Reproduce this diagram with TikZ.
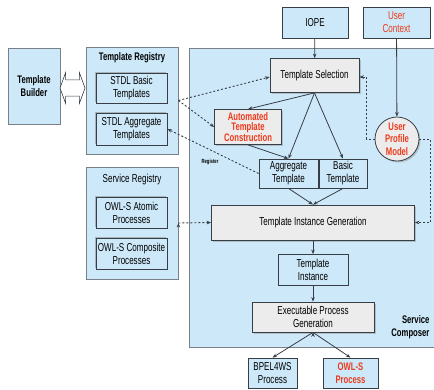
\documentclass[tikz,border=0pt]{standalone}
\usepackage{fontspec}
\setmainfont{Liberation Sans}[FakeStretch=0.7]
\usetikzlibrary{positioning,calc,shadows,shapes.arrows,arrows.meta}

\definecolor{paleblue}{RGB}{205,233,249}
\definecolor{procgrey}{RGB}{236,236,236}
\definecolor{linegrey}{RGB}{55,62,70}
\definecolor{framegrey}{RGB}{120,128,136}
\definecolor{alertred}{RGB}{236,58,28}

\begin{document}
\begin{tikzpicture}[x=1pt,y=-1pt,>={Stealth[length=4.5pt,width=3.5pt]},
  font=\fontsize{11.5}{13}\selectfont,
  frame/.style={draw=framegrey,line width=0.9pt,fill=paleblue,inner sep=0pt},
  plain/.style={draw=linegrey,line width=0.8pt,fill=paleblue,align=center,inner sep=1pt},
  store/.style={plain,minimum width=71pt,drop shadow={shadow xshift=-1.5pt,shadow yshift=1.5pt,opacity=0.5,fill=gray}},
  proc/.style={draw=linegrey,line width=0.8pt,fill=procgrey,align=center,inner sep=1pt,drop shadow={shadow xshift=1.5pt,shadow yshift=-1.5pt,opacity=0.4,fill=gray}},
  hot/.style={text=alertred,font=\fontsize{11}{10.5}\selectfont\bfseries},
  heading/.style={font=\fontsize{11}{13}\selectfont\bfseries},
  flow/.style={->,draw=linegrey,line width=0.8pt},
  feed/.style={->,draw=linegrey,line width=0.9pt,dash pattern=on 2pt off 2pt}]
\useasboundingbox (0,0) rectangle (434,389);
% containers
\node[frame,minimum width=250pt,minimum height=299pt] (composer) at (314,197.5) {};
\node[frame,minimum width=92pt,minimum height=107pt] (tregistry) at (132,100.5) {};
\node[frame,minimum width=92pt,minimum height=112pt] (sregistry) at (132,223) {};
\node[heading] at (132,58) {Template Registry};
\node at (132,180) {Service Registry};
\node[heading,align=right,anchor=east] at (433,327) {Service\\Composer};
% left side
\node[frame,heading,minimum width=52pt,minimum height=76pt,align=center] (builder) at (34,86) {Template\\Builder};
\node[double arrow,draw=linegrey,fill=white,line width=0.6pt,minimum height=25pt,minimum width=31pt,inner sep=0pt,inner ysep=7.5pt,double arrow tip angle=140] (link) at (72.5,88) {};
\node[store,minimum height=30pt] (stdlbasic) at (131.5,88) {STDL Basic\\Templates};
\node[store,minimum height=32pt] (stdlaggr) at (131.5,129) {STDL Aggregate\\Templates};
\node[store,minimum height=31pt] (owlatomic) at (131.5,213) {OWL-S Atomic\\Processes};
\node[store,minimum height=31pt] (owlcomp) at (131.5,253.5) {OWL-S Composite\\Processes};
% top inputs
\node[plain,minimum width=66pt,minimum height=31pt] (iope) at (315,22.5) {IOPE};
\node[plain,minimum width=67pt,minimum height=31pt,text=alertred] (context) at (396.5,22.5) {User\\Context};
% composer
\node[proc,minimum width=89pt,minimum height=34pt] (tsel) at (314.5,75.5) {Template Selection};
\node[proc,hot,minimum width=67pt,minimum height=35pt] (atc) at (248,127) {Automated\\Template\\Construction};
\node[proc,hot,circle,minimum size=44pt,inner sep=0pt,font=\fontsize{11}{12.5}\selectfont\bfseries] (upm) at (397,139) {User\\Profile\\Model};
\node[plain,minimum width=59pt,minimum height=29pt] (aggr) at (288.5,173.5) {Aggregate\\Template};
\node[plain,minimum width=48pt,minimum height=29pt] (basic) at (343,173.5) {Basic\\Template};
\node[proc,minimum width=203pt,minimum height=35pt] (tig) at (313,222.5) {Template Instance Generation};
\node[plain,minimum width=70pt,minimum height=31pt] (tinst) at (313,270) {Template\\Instance};
\node[proc,minimum width=122pt,minimum height=30pt] (epg) at (313,317) {Executable Process\\Generation};
\node[plain,minimum width=49pt,minimum height=30pt] (bpel) at (272.5,373) {BPEL4WS\\Process};
\node[plain,hot,minimum width=55pt,minimum height=30pt,font=\fontsize{11}{13}\selectfont\bfseries] (owlp) at (350.5,373) {OWL-S\\Process};
\node[font=\fontsize{6}{7}\selectfont\bfseries] (register) at (210,162) {Register};
\path[flow]
	(iope) edge (tsel)
	(context) edge (upm)
	(tsel.south) edge (atc.north)
	(tsel.south) edge (aggr.north)
	(tsel.south) edge (basic.north)
	(atc.south) edge (aggr.north)
	(aggr.south) edge (tig.north)
	(basic.south) edge (tig.north)
	(tig) edge (tinst)
	(tinst) edge (epg)
	(epg.south) edge (bpel.north)
	(epg.south) edge (owlp.north)
; %-path-%
\path[feed]
	(tregistry.east) edge ($(tsel.west)+(0,1.5)$)
	(tregistry.east) edge (atc.west)
	(aggr.west) edge (stdlaggr.east)
	(sregistry.east) edge (tig.west)
;
\draw[feed] (upm.west) -- ++(-8,0) |- ($(tsel.east)+(0,1.5)$);
\draw[feed] (upm.east) -- ++(11,0) |- (tig.east);
\end{tikzpicture}
\end{document}
